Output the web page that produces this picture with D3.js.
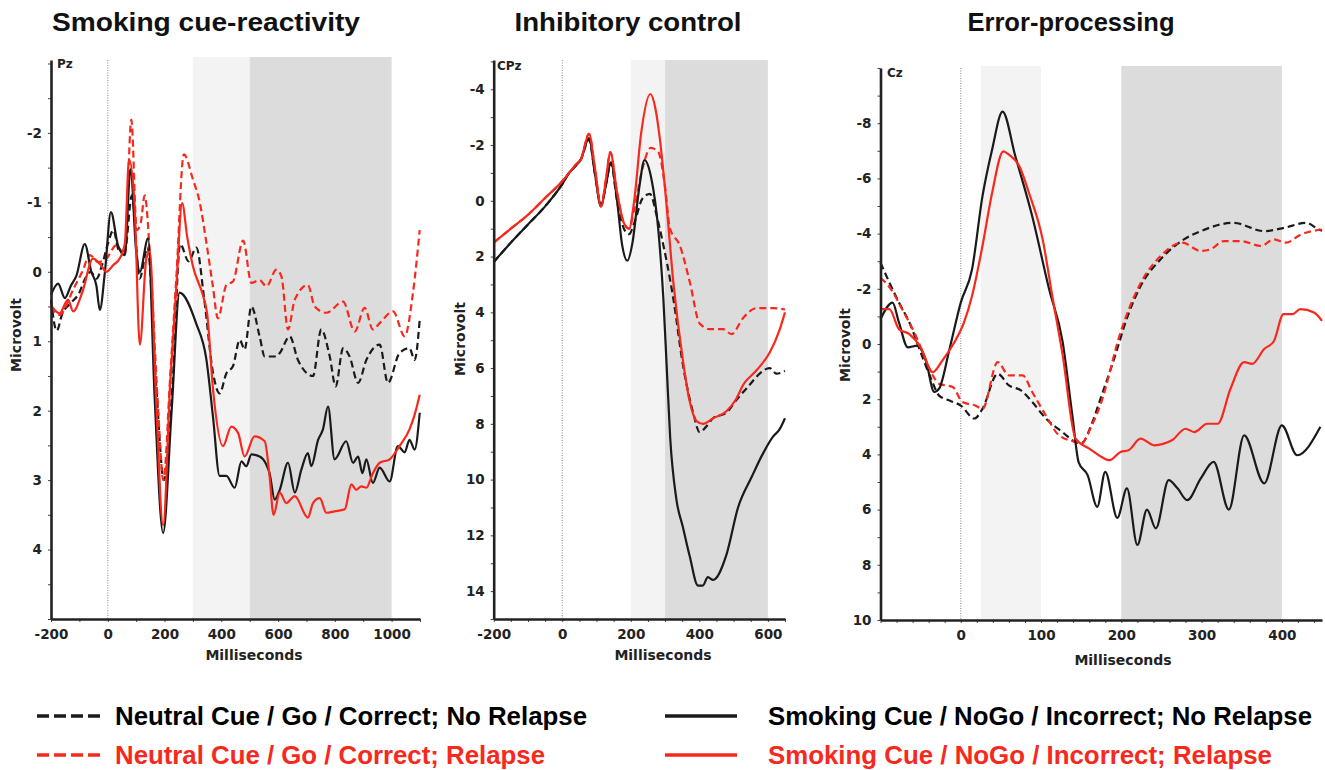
<!DOCTYPE html>
<html><head><meta charset="utf-8">
<script src="https://cdn.jsdelivr.net/npm/d3@7"></script>
<style>body{margin:0;background:#fff}</style></head>
<body>
<svg id="c" width="1325" height="770"></svg>
<script>
// ---------------- DATA ----------------
const titles = ["Smoking cue-reactivity", "Inhibitory control", "Error-processing"];
const electrodes = ["Pz", "CPz", "Cz"];
const seriesNames = [
  "Neutral Cue / Go / Correct; No Relapse",
  "Neutral Cue / Go / Correct; Relapse",
  "Smoking Cue / NoGo / Incorrect; No Relapse",
  "Smoking Cue / NoGo / Incorrect; Relapse"
];

const p1XTicks = [-200, 0, 200, 400, 600, 800, 1000];
const p1YTicks = [-2, -1, 0, 1, 2, 3, 4];
const p2XTicks = [-200, 0, 200, 400, 600];
const p2YTicks = [-4, -2, 0, 2, 4, 6, 8, 10, 12, 14];
const p3XTicks = [0, 100, 200, 300, 400];
const p3YTicks = [-8, -6, -4, -2, 0, 2, 4, 6, 8, 10];

const p1Windows = [[300, 500], [500, 1000]];
const p2Windows = [[200, 300], [300, 600]];
const p3Windows = [[25, 100], [200, 400]];

// Panel 1 (Pz) [ms, microvolt]
const p1NeutralNoRelapse = [[-200,0.4],[-180,0.85],[-160,0.6],[-130,0.45],[-100,0.3],[-80,0.1],[-60,0.0],[-40,0.1],[-20,-0.1],[0,-0.4],[20,-0.6],[40,-0.3],[60,-0.3],[85,-1.1],[112,0.1],[140,-0.35],[170,1.6],[198,3.0],[230,1.5],[255,-0.4],[285,-0.15],[312,-0.35],[340,0.4],[371,1.46],[394,1.75],[418,1.46],[441,1.36],[465,0.98],[482,1.12],[506,0.5],[535,0.93],[553,1.22],[594,1.22],[606,1.17],[641,0.93],[670,1.27],[723,1.5],[752,0.83],[782,1.22],[803,1.65],[829,1.1],[852,1.22],[882,1.6],[911,1.27],[958,1.05],[987,1.6],[1028,1.17],[1063,1.1],[1081,1.27],[1099,0.69]];
const p1NeutralRelapse = [[-200,0.5],[-170,0.62],[-120,0.24],[-90,0.0],[-63,-0.24],[-34,-0.14],[-5,-0.19],[30,-0.38],[60,-0.24],[83,-2.19],[102,-0.6],[116,-0.7],[130,-1.1],[148,-0.29],[175,1.8],[196,3.0],[220,1.5],[242,0.05],[268,-1.69],[300,-1.33],[324,-1.0],[347,-0.43],[370,0.2],[388,0.67],[418,0.19],[441,0.14],[477,-0.45],[506,0.16],[535,0.12],[559,0.21],[594,-0.03],[612,0.07],[635,0.83],[659,0.4],[705,0.19],[729,0.5],[770,0.59],[829,0.43],[870,0.86],[905,0.52],[934,0.83],[958,0.74],[1005,0.57],[1046,0.93],[1075,0.31],[1099,-0.6]];
const p1SmokingNoRelapse = [[-200,0.33],[-175,0.17],[-151,0.38],[-130,0.2],[-110,0.05],[-81,-0.4],[-58,0.0],[-40,0.2],[-28,0.55],[-10,0.0],[11,-0.86],[36,-0.38],[60,-0.24],[80,-1.48],[100,-0.3],[113,0.0],[142,-0.48],[165,1.8],[195,3.76],[225,2.0],[253,0.3],[312,0.75],[347,1.25],[371,2.1],[394,2.94],[418,2.94],[447,3.11],[471,2.73],[488,2.8],[506,2.63],[535,2.66],[559,2.78],[570,2.9],[588,3.28],[606,3.14],[635,2.75],[659,3.18],[682,2.85],[705,2.61],[717,2.8],[741,2.42],[758,2.27],[776,1.94],[799,2.7],[840,2.44],[864,2.75],[882,2.66],[897,2.9],[911,2.7],[934,3.04],[958,2.82],[993,3.02],[1022,2.51],[1046,2.6],[1063,2.42],[1081,2.56],[1099,2.03]];
const p1SmokingRelapse = [[-200,0.48],[-170,0.6],[-140,0.4],[-122,0.57],[-90,0.3],[-52,-0.19],[-25,-0.1],[-5,0.0],[20,-0.1],[42,-0.19],[60,-0.4],[75,-1.62],[94,-1.0],[113,1.05],[136,-0.19],[148,-0.29],[170,1.8],[195,3.65],[220,1.6],[242,0.19],[262,-0.99],[280,-0.5],[300,-0.08],[336,0.35],[350,0.6],[371,1.7],[406,2.51],[435,2.23],[459,2.32],[482,2.66],[517,2.37],[553,2.44],[570,2.94],[584,3.5],[606,3.18],[629,3.33],[659,3.23],[705,3.54],[723,3.33],[747,3.26],[770,3.47],[799,3.45],[835,3.42],[858,3.06],[876,3.14],[893,3.09],[911,3.11],[934,2.9],[958,2.75],[993,2.7],[1028,2.51],[1063,2.27],[1081,2.06],[1099,1.77]];

// Panel 2 (CPz)
const p2NeutralNoRelapse = [[-200,2.2],[-150,1.5],[-100,0.85],[-50,0.2],[0,-0.6],[20,-1.0],[35,-1.2],[55,-1.5],[78,-2.2],[95,-1.0],[113,0.15],[128,-0.6],[142,-1.35],[160,0.0],[180,1.0],[195,1.2],[210,0.8],[235,-0.1],[256,-0.25],[275,0.5],[290,1.3],[324,3.5],[353,5.95],[382,7.6],[401,8.3],[420,8.1],[440,7.8],[479,7.6],[508,7.15],[547,6.6],[576,6.2],[605,6.0],[625,6.2],[650,6.1]];
const p2NeutralRelapse = [[-200,1.5],[-150,1.0],[-100,0.5],[-50,-0.1],[0,-0.7],[20,-1.0],[40,-1.3],[55,-1.5],[78,-2.4],[95,-1.2],[113,0.2],[128,-0.8],[140,-1.75],[160,-0.3],[180,0.8],[195,1.0],[210,0.3],[235,-1.2],[258,-1.9],[280,-1.75],[300,-0.5],[314,0.98],[343,1.6],[372,2.9],[401,4.4],[430,4.6],[469,4.6],[494,4.78],[528,4.2],[567,3.85],[615,3.85],[650,3.9]];
const p2SmokingNoRelapse = [[-200,2.2],[-150,1.5],[-100,0.85],[-50,0.2],[0,-0.6],[20,-1.0],[35,-1.2],[55,-1.5],[78,-2.25],[95,-1.0],[113,0.2],[128,-0.6],[142,-1.38],[160,0.0],[175,1.6],[190,2.15],[205,1.5],[225,-0.5],[240,-1.46],[260,-0.8],[280,1.0],[295,3.5],[305,6.0],[315,8.5],[333,10.7],[352,11.7],[372,12.75],[396,13.8],[410,13.8],[425,13.5],[440,13.6],[479,12.7],[513,11.0],[553,9.9],[586,9.06],[615,8.46],[634,8.2],[650,7.8]];
const p2SmokingRelapse = [[-200,1.5],[-150,1.0],[-100,0.5],[-50,-0.1],[0,-0.7],[20,-1.0],[40,-1.3],[55,-1.5],[78,-2.4],[95,-1.2],[113,0.2],[128,-0.8],[140,-1.75],[160,-0.3],[180,0.8],[195,1.0],[210,0.0],[230,-2.4],[257,-3.83],[272,-3.3],[285,-2.2],[304,0.1],[324,2.9],[353,5.8],[372,7.2],[392,7.9],[411,8.0],[440,7.8],[479,7.55],[508,7.1],[528,6.6],[567,6.08],[605,5.45],[635,4.6],[650,4.0]];

// Panel 3 (Cz)
const p3NeutralNoRelapse = [[-100,-2.95],[-89,-2.23],[-77,-1.5],[-64,-0.78],[-50,0.3],[-37,1.26],[-27,1.87],[-14,2.05],[0,2.23],[17,2.7],[27,2.35],[46,1.08],[60,1.5],[75,1.68],[89,2.1],[106,2.7],[127,3.2],[143,3.55],[150,3.6],[164,2.83],[174,1.99],[191,0.54],[208,-1.02],[224,-2.1],[249,-3.07],[278,-3.79],[299,-4.09],[340,-4.39],[378,-4.09],[403,-4.21],[430,-4.39],[446,-4.15],[450,-4.1]];
const p3NeutralRelapse = [[-100,-2.4],[-87,-1.99],[-73,-1.26],[-56,-0.3],[-39,0.9],[-27,1.44],[-10,1.56],[2,2.1],[18,2.23],[27,2.35],[46,0.66],[60,1.14],[77,1.14],[89,1.74],[106,2.59],[122,3.3],[143,3.55],[150,3.6],[164,2.9],[174,2.2],[199,-0.42],[224,-2.2],[249,-3.19],[276,-3.67],[299,-3.37],[311,-3.43],[328,-3.73],[349,-3.73],[374,-3.55],[390,-3.79],[405,-3.67],[424,-3.97],[450,-4.15]];
const p3SmokingNoRelapse = [[-100,-0.9],[-85,-1.5],[-77,-0.78],[-66,0.12],[-54,0.06],[-44,0.54],[-33,1.74],[-27,1.62],[-14,0.18],[0,-1.5],[14,-2.7],[27,-5.35],[39,-7.04],[52,-8.42],[68,-6.8],[89,-4.63],[110,-1.99],[127,-0.06],[139,2.59],[147,4.3],[158,4.75],[170,5.9],[180,4.63],[195,6.3],[207,5.23],[220,7.28],[232,6.0],[243,6.68],[259,4.93],[270,5.23],[282,5.66],[299,4.87],[315,4.27],[334,6.0],[353,3.31],[378,5.05],[400,2.95],[419,4.03],[448,3.0]];
const p3SmokingRelapse = [[-100,-1.26],[-89,-1.26],[-77,-0.54],[-64,-0.36],[-50,0.12],[-35,1.02],[-23,0.6],[-8,-0.06],[4,-0.78],[14,-1.74],[27,-3.55],[39,-5.47],[53,-6.98],[60,-6.86],[73,-6.44],[85,-5.47],[102,-3.79],[114,-1.74],[127,0.42],[143,3.43],[160,3.79],[172,4.03],[185,4.21],[199,3.91],[209,3.85],[224,3.43],[241,3.67],[263,3.49],[280,3.07],[291,3.19],[307,2.89],[320,2.89],[336,1.62],[353,0.66],[363,0.72],[378,0.18],[390,-0.1],[402,-1.08],[413,-1.08],[423,-1.26],[440,-1.14],[450,-0.84]];

// ---------------- STYLE / LAYOUT ----------------
const BLACK = "#1a1a1a", RED = "#f8281c";
const seriesStyles = [
  {color: BLACK, dash: "7,4"},
  {color: RED, dash: "7,4"},
  {color: BLACK, dash: null},
  {color: RED, dash: null}
];

const panels = [
  {title: titles[0], titleX: 206, titleW: 308, el: electrodes[0], elX: 57, elY: 68,
   xDomain: [-200, 1100], yDomain: [-3.05, 5], left: 51, right: 420, top: 60, bottom: 619, shadeTop: 57,
   xTicks: p1XTicks, yTicks: p1YTicks, yMinor: 0.5, xMinor: 100, windows: p1Windows,
   series: [p1NeutralNoRelapse, p1NeutralRelapse, p1SmokingNoRelapse, p1SmokingRelapse],
   yLab: [16, 335], xLab: [254, 660]},
  {title: titles[1], titleX: 628, titleW: 227, el: electrodes[1], elX: 497, elY: 70,
   xDomain: [-200, 650], yDomain: [-5.05, 15], left: 493.7, right: 785, top: 60, bottom: 619, shadeTop: 60,
   xTicks: p2XTicks, yTicks: p2YTicks, yMinor: 1, xMinor: 50, windows: p2Windows,
   series: [p2NeutralNoRelapse, p2NeutralRelapse, p2SmokingNoRelapse, p2SmokingRelapse],
   yLab: [460, 339], xLab: [663, 660]},
  {title: titles[2], titleX: 1071, titleW: 207, el: electrodes[2], elX: 887, elY: 77,
   xDomain: [-100, 450], yDomain: [-10, 10], left: 880.5, right: 1322, top: 68, bottom: 620, shadeTop: 66,
   xTicks: p3XTicks, yTicks: p3YTicks, yMinor: 1, xMinor: 20, windows: p3Windows,
   series: [p3NeutralNoRelapse, p3NeutralRelapse, p3SmokingNoRelapse, p3SmokingRelapse],
   yLab: [845, 345], xLab: [1123, 665]}
];
const shadeColors = ["#f3f3f3", "#dcdcdc"];

const svg = d3.select("#c");
const TICKFONT = "DejaVu Sans, Verdana, sans-serif";

panels.forEach(cfg => {
  const x = d3.scaleLinear().domain(cfg.xDomain).range([cfg.left, cfg.right]);
  const y = d3.scaleLinear().domain(cfg.yDomain).range([cfg.top, cfg.bottom]);
  const g = svg.append("g");

  // analysis windows
  g.selectAll("rect.win").data(cfg.windows).enter().append("rect")
    .attr("x", d => x(d[0])).attr("width", d => x(d[1]) - x(d[0]))
    .attr("y", cfg.shadeTop).attr("height", cfg.bottom - cfg.shadeTop)
    .attr("fill", (d, i) => shadeColors[i]);

  // stimulus onset dotted line
  g.append("line").attr("x1", x(0)).attr("x2", x(0)).attr("y1", cfg.top).attr("y2", cfg.bottom)
    .attr("stroke", "#8a8a8a").attr("stroke-width", 1).attr("stroke-dasharray", "1,1.5");

  // ERP lines
  const line = d3.line().x(d => x(d[0])).y(d => y(d[1])).curve(d3.curveMonotoneX);
  cfg.series.forEach((s, i) => {
    g.append("path").attr("d", line(s)).attr("fill", "none")
      .attr("stroke", seriesStyles[i].color).attr("stroke-width", 2.2)
      .attr("stroke-linejoin", "round")
      .attr("stroke-dasharray", seriesStyles[i].dash);
  });

  // minor ticks
  const yMinorVals = d3.range(Math.ceil(cfg.yDomain[0] / cfg.yMinor) * cfg.yMinor, cfg.yDomain[1] + 1e-9, cfg.yMinor);
  g.append("g").attr("transform", `translate(${cfg.left},0)`)
    .call(d3.axisLeft(y).tickValues(yMinorVals).tickSize(3).tickSizeOuter(0).tickFormat(""))
    .call(a => a.select(".domain").remove())
    .call(a => a.selectAll("line").attr("stroke", "#444"));
  const xMinorVals = d3.range(Math.ceil(cfg.xDomain[0] / cfg.xMinor) * cfg.xMinor, cfg.xDomain[1] + 1e-9, cfg.xMinor);
  g.append("g").attr("transform", `translate(0,${cfg.bottom})`)
    .call(d3.axisBottom(x).tickValues(xMinorVals).tickSize(3).tickSizeOuter(0).tickFormat(""))
    .call(a => a.select(".domain").remove())
    .call(a => a.selectAll("line").attr("stroke", "#444"));

  // main axes
  const ya = g.append("g").attr("transform", `translate(${cfg.left},0)`)
    .call(d3.axisLeft(y).tickValues(cfg.yTicks).tickSize(0).tickSizeOuter(0).tickPadding(9).tickFormat(d => String(d)));
  const xa = g.append("g").attr("transform", `translate(0,${cfg.bottom})`)
    .call(d3.axisBottom(x).tickValues(cfg.xTicks).tickSize(0).tickSizeOuter(0).tickPadding(10).tickFormat(d => String(d)));
  [ya, xa].forEach(a => {
    a.select(".domain").attr("stroke", "#222").attr("stroke-width", 2.6);
    a.selectAll("text").attr("font-family", TICKFONT).attr("font-weight", "bold")
      .attr("font-size", 13.5).attr("fill", "#222");
  });

  // labels
  g.append("text").attr("x", cfg.elX).attr("y", cfg.elY).text(cfg.el)
    .attr("font-family", TICKFONT).attr("font-weight", "bold").attr("font-size", 12).attr("fill", "#222");
  g.append("text").attr("transform", `translate(${cfg.yLab[0]},${cfg.yLab[1]}) rotate(-90)`)
    .attr("text-anchor", "middle").attr("dominant-baseline", "central").text("Microvolt")
    .attr("font-family", TICKFONT).attr("font-weight", "bold").attr("font-size", 14).attr("fill", "#222");
  g.append("text").attr("x", cfg.xLab[0]).attr("y", cfg.xLab[1]).attr("text-anchor", "middle").text("Milliseconds")
    .attr("font-family", TICKFONT).attr("font-weight", "bold").attr("font-size", 14).attr("fill", "#222");
  g.append("text").attr("x", cfg.titleX).attr("y", 31).attr("text-anchor", "middle").text(cfg.title)
    .attr("font-family", "Liberation Sans, Arial, sans-serif").attr("font-weight", "bold")
    .attr("font-size", 25).attr("fill", "#111")
    .attr("textLength", cfg.titleW).attr("lengthAdjust", "spacingAndGlyphs");
});

// ---------------- LEGEND ----------------
const legendItems = [
  {name: seriesNames[0], style: seriesStyles[0], sx: 37, ex: 103, tx: 115, y: 716, w: 472},
  {name: seriesNames[1], style: seriesStyles[1], sx: 37, ex: 103, tx: 115, y: 755, w: 430},
  {name: seriesNames[2], style: seriesStyles[2], sx: 665, ex: 737, tx: 768, y: 716, w: 544},
  {name: seriesNames[3], style: seriesStyles[3], sx: 665, ex: 737, tx: 768, y: 755, w: 504}
];
const lg = svg.append("g");
legendItems.forEach(it => {
  lg.append("line").attr("x1", it.sx).attr("x2", it.ex).attr("y1", it.y).attr("y2", it.y)
    .attr("stroke", it.style.color).attr("stroke-width", 3.4)
    .attr("stroke-dasharray", it.style.dash ? "12,5" : null);
  lg.append("text").attr("x", it.tx).attr("y", it.y).attr("dominant-baseline", "central")
    .text(it.name).attr("fill", it.style.color === RED ? RED : "#000")
    .attr("font-family", "Liberation Sans Narrow, Liberation Sans, Arial, sans-serif")
    .attr("font-weight", "bold").attr("font-size", 25)
    .attr("textLength", it.w).attr("lengthAdjust", "spacingAndGlyphs");
});
</script>
</body></html>
